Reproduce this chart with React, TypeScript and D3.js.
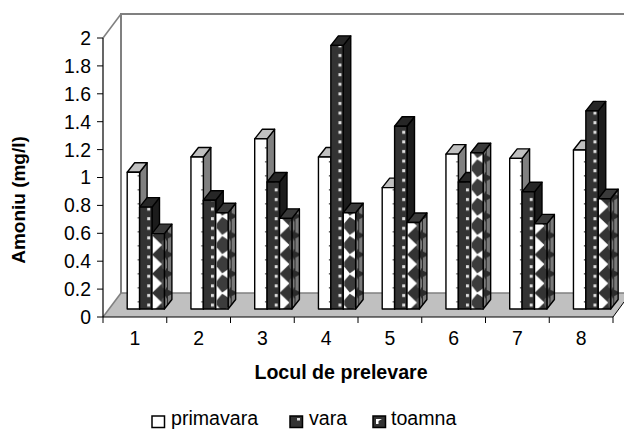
import React from "react";
import * as d3 from "d3";

const categories = ["1", "2", "3", "4", "5", "6", "7", "8"];
const seriesNames = ["primavara", "vara", "toamna"];
const primavara = [0.98, 1.09, 1.22, 1.09, 0.87, 1.11, 1.08, 1.14];
const vara = [0.73, 0.78, 0.91, 1.89, 1.31, 0.91, 0.84, 1.42];
const toamna = [0.54, 0.69, 0.65, 0.69, 0.62, 1.12, 0.61, 0.79];
const yTicks = [0, 0.2, 0.4, 0.6, 0.8, 1, 1.2, 1.4, 1.6, 1.8, 2];
const yTitle = "Amoniu (mg/l)";
const xTitle = "Locul de prelevare";
const diamondGroups = [1, 3, 5];

const FONT = "'Liberation Sans', Arial, sans-serif";
const x = d3.scaleLinear().domain([0, 8]).range([103, 613]);
const y = d3.scaleLinear().domain([0, 2]).range([317, 38]);
const dx = 18, dy = -24;        // wall depth
const bdx = 7.5, bdy = -9.5;    // bar depth
const baseShift = -8;           // bars stand in the floor
const barW = 12.4, barOff = 24.2;

const series = [primavara, vara, toamna];
const faceFor = (s: number, i: number) => {
  if (s === 0) return { front: "url(#pWhite)", side: "#808080", top: "#c0c0c0" };
  if (s === 1) return { front: "url(#pDark)", side: "#1c1c1c", top: "#262626" };
  return {
    front: diamondGroups.includes(i) ? "url(#pDia)" : "url(#pTri)",
    side: "url(#pTriSide)",
    top: "#3a3a3a",
  };
};

function Bar({ i, s, v }: { i: number; s: number; v: number }) {
  const x0 = x(i) + barOff;
  const b = barW;
  const bottom = y(0) + baseShift;
  const top = y(v) + baseShift;
  const f = faceFor(s, i);
  const stroke = { stroke: "#000", strokeWidth: 1.4, strokeLinejoin: "round" as const };
  return (
    <g transform={`translate(${x0 + s * b},0)`}>
      <path d={`M${b},${bottom}L${b + bdx},${bottom + bdy}L${b + bdx},${top + bdy}L${b},${top}Z`} fill={f.side} {...stroke} />
      <path d={`M0,${top}L${bdx},${top + bdy}L${b + bdx},${top + bdy}L${b},${top}Z`} fill={f.top} {...stroke} />
      <rect x={0} y={top} width={b} height={bottom - top} fill={f.front} {...stroke} />
    </g>
  );
}

export default function App() {
  const floorBack = y(0) + dy;
  const wallTop = y(2) + dy;
  return (
    <svg width={624} height={430} style={{ position: "absolute", left: 0, top: 0 }} fontFamily={FONT}>
      <defs>
        <pattern id="pWhite" patternUnits="userSpaceOnUse" width={12.4} height={14} y={1}>
          <rect width={12.4} height={14} fill="#fff" />
          <rect x={10.4} y={6} width={1.6} height={1.6} fill="#666" />
        </pattern>
        <pattern id="pDark" patternUnits="userSpaceOnUse" width={12.4} height={9.6} y={3}>
          <rect width={12.4} height={9.6} fill="#333" />
          <rect x={7.6} y={3} width={3} height={3} fill="#ddd" />
        </pattern>
        <pattern id="pTri" patternUnits="userSpaceOnUse" width={12.4} height={19.2} y={5}>
          <rect width={12.4} height={19.2} fill="#333" />
          <path d="M0,0L10,9.6L0,19.2Z" fill="#fff" />
          <ellipse cx={12} cy={9.6} rx={2.5} ry={5} fill="#555" />
        </pattern>
        <pattern id="pDia" patternUnits="userSpaceOnUse" width={12.4} height={19.2} y={5}>
          <rect width={12.4} height={19.2} fill="#fff" />
          <path d="M6.5,0.6L13,5V14.2L6.5,18.6L1,12V7.2Z" fill="#3c3c3c" />
        </pattern>
        <pattern id="pTriSide" patternUnits="userSpaceOnUse" width={8} height={19.2} y={5}>
          <rect width={8} height={19.2} fill="#2a2a2a" />
          <path d="M0,3L4,1L7,6V13L4,18L0,16Z" fill="#7a7a7a" />
        </pattern>
      </defs>

      {/* floor */}
      <path d={`M${x(0)},${y(0)}L${x(0) + dx},${floorBack}L624,${floorBack}L624,${y(0) - 15}L${x(8)},${y(0)}Z`} fill="#c0c0c0" />
      {/* walls */}
      <g fill="none" stroke="#808080" strokeWidth={1.6}>
        <path d={`M${x(0) + dx},${floorBack}V${wallTop}H624`} strokeWidth={2} />
        <path d={`M${x(0) + dx},${floorBack}H624`} />
        <path d={`M${x(0)},${y(2)}L${x(0) + dx},${wallTop}`} />
        <path d={`M${x(0)},${y(0)}L${x(0) + dx},${floorBack}`} />
      </g>
      <path d={`M${x(8)},${y(0)}L624,${y(0) - 15}`} stroke="#000" strokeWidth={1} />

      {/* bars */}
      {categories.map((_, i) => (
        <g key={i}>{series.map((vals, s) => <Bar key={s} i={i} s={s} v={vals[i]} />)}</g>
      ))}

      {/* y axis */}
      <path d={`M${x(0)},${y(2)}V${y(0)}`} stroke="#000" strokeWidth={1.2} />
      {yTicks.map((t) => (
        <g key={t}>
          <line x1={x(0) - 6} x2={x(0)} y1={y(t)} y2={y(t)} stroke="#000" />
          <text x={x(0) - 12} y={y(t)} dy="0.36em" textAnchor="end" fontSize={19.4}>{String(t)}</text>
        </g>
      ))}
      {/* x axis */}
      <path d={`M${x(0)},${y(0)}H${x(8)}`} stroke="#000" strokeWidth={1.2} />
      {d3.range(0, 9).map((t) => (
        <line key={t} x1={x(t)} x2={x(t)} y1={y(0)} y2={y(0) + 6} stroke="#000" />
      ))}
      {categories.map((c, i) => (
        <text key={c} x={x(i + 0.5)} y={345} textAnchor="middle" fontSize={19.4}>{c}</text>
      ))}

      <text x={341} y={379} textAnchor="middle" fontSize={19.6} fontWeight="bold">{xTitle}</text>
      <text transform="translate(25,200) rotate(-90)" textAnchor="middle" fontSize={19} fontWeight="bold">{yTitle}</text>

      {/* legend */}
      <g>
        <rect x={152} y={416} width={12.5} height={11.5} fill="#fff" stroke="#000" strokeWidth={1.5} />
        <text x={171} y={424.5} fontSize={19.6}>{seriesNames[0]}</text>
        <rect x={290} y={416} width={12.5} height={11.5} fill="#333" stroke="#000" strokeWidth={1.5} />
        <rect x={297} y={418} width={3} height={2.5} fill="#ddd" />
        <text x={309} y={424.5} fontSize={19.6}>{seriesNames[1]}</text>
        <rect x={373} y={416} width={12.5} height={11.5} fill="#333" stroke="#000" strokeWidth={1.5} />
        <path d="M376,424V419H382L378.5,421V424Z" fill="#fff" />
        <text x={391} y={424.5} fontSize={19.6}>{seriesNames[2]}</text>
      </g>
    </svg>
  );
}
